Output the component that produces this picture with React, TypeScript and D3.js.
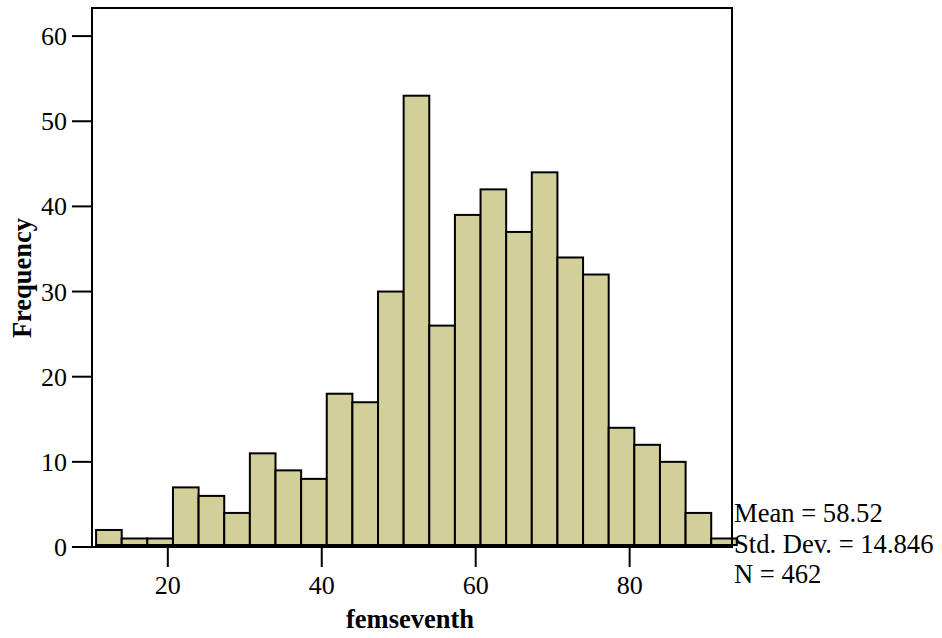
import React from "react";
import * as d3 from "d3";

// Histogram bin counts (25 bins)
const counts: number[] = [2, 1, 1, 7, 6, 4, 11, 9, 8, 18, 17, 30, 53, 26, 39, 42, 37, 44, 34, 32, 14, 12, 10, 4, 1];
const binStart = 10.68;
const binWidth = 3.33;
const xTicks: number[] = [20, 40, 60, 80];
const yTicks: number[] = [0, 10, 20, 30, 40, 50, 60];
const statLines: string[] = ["Mean = 58.52", "Std. Dev. = 14.846", "N = 462"];
const xTitle = "femseventh";
const yTitle = "Frequency";

const W = 942;
const H = 638;
const plot = { left: 92, right: 732, top: 8, bottom: 547 };
const FONT = '"Liberation Serif", "Times New Roman", Times, serif';
const txt = (size: number, bold = false): React.CSSProperties => ({
  fontFamily: FONT,
  fontSize: size,
  fontWeight: bold ? 700 : 400,
});

export default function App() {
  const x = d3.scaleLinear().domain([10.15, 93.3]).range([plot.left, plot.right]);
  const y = d3.scaleLinear().domain([0, 63.3]).range([plot.bottom, plot.top]);
  const bins = counts.map((c, i) => ({ x0: binStart + i * binWidth, x1: binStart + (i + 1) * binWidth, c }));
  const base = y(0) - 2;

  return (
    <svg width={W} height={H} style={{ position: "absolute", left: 0, top: 0, background: "#fff" }}>
      <rect x={0} y={0} width={W} height={H} fill="#fff" />
      {bins.map((b, i) => (
        <rect
          key={i}
          x={x(b.x0)}
          y={y(b.c)}
          width={x(b.x1) - x(b.x0)}
          height={base - y(b.c)}
          fill="#d3cf98"
          stroke="#000"
          strokeWidth={2}
        />
      ))}
      <rect
        x={plot.left}
        y={plot.top}
        width={plot.right - plot.left}
        height={plot.bottom - plot.top}
        fill="none"
        stroke="#000"
        strokeWidth={2}
      />
      {yTicks.map((t) => (
        <g key={t}>
          <line x1={plot.left - 20} x2={plot.left} y1={y(t)} y2={y(t)} stroke="#000" strokeWidth={2} />
          <text x={plot.left - 25} y={y(t)} dy="0.35em" textAnchor="end" style={txt(26)}>
            {t}
          </text>
        </g>
      ))}
      {xTicks.map((t) => (
        <g key={t}>
          <line x1={x(t)} x2={x(t)} y1={plot.bottom} y2={plot.bottom + 20} stroke="#000" strokeWidth={2} />
          <text x={x(t)} y={594} textAnchor="middle" style={txt(26)}>
            {t}
          </text>
        </g>
      ))}
      <text x={410} y={628} textAnchor="middle" style={txt(26.5, true)}>
        {xTitle}
      </text>
      <text transform={`translate(31,278) rotate(-90)`} textAnchor="middle" style={txt(26.5, true)}>
        {yTitle}
      </text>
      {statLines.map((s, i) => (
        <text key={i} x={734} y={522 + i * 30.5} style={txt(26.6)}>
          {s}
        </text>
      ))}
    </svg>
  );
}
